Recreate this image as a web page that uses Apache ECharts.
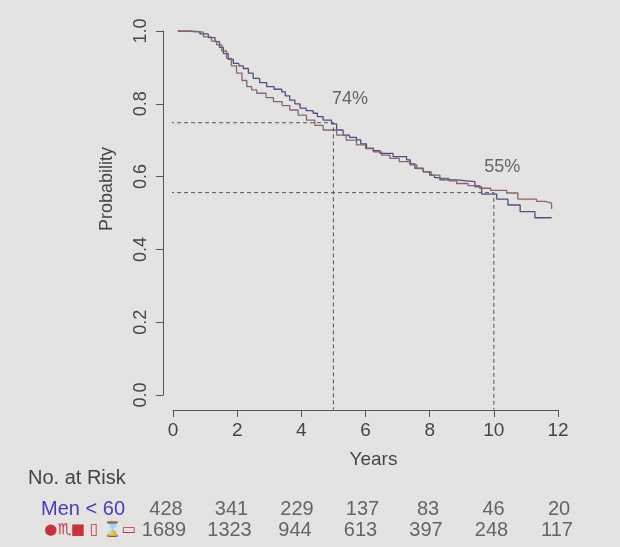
<!DOCTYPE html>
<html>
<head>
<meta charset="utf-8">
<script src="https://cdn.jsdelivr.net/npm/echarts@6/dist/echarts.min.js"></script>
<style>html,body{margin:0;padding:0;background:#e3e3e1;}#c{width:620px;height:547px;}</style>
</head>
<body>
<div id="c"></div>
<script>
// ---- data ----
var xTicks = [0, 2, 4, 6, 8, 10, 12];
var yTicks = [0.0, 0.2, 0.4, 0.6, 0.8, 1.0];

// Men < 60 (blue curve): [years, survival]
var menUnder60 = [
  [0.15, 1.0], [0.4, 0.998], [0.84, 0.992], [1.1, 0.982], [1.31, 0.971], [1.45, 0.955], [1.57, 0.938],
  [1.72, 0.922], [1.88, 0.911], [2.05, 0.904], [2.19, 0.897], [2.35, 0.884], [2.5, 0.870],
  [2.7, 0.858], [2.92, 0.847], [3.15, 0.840], [3.39, 0.833], [3.5, 0.822], [3.64, 0.810],
  [3.8, 0.800], [3.96, 0.788], [4.15, 0.781], [4.37, 0.774], [4.5, 0.765], [4.68, 0.755],
  [4.94, 0.745], [5.1, 0.728], [5.3, 0.714], [5.5, 0.708], [5.72, 0.701], [5.85, 0.690],
  [6.03, 0.678], [6.25, 0.671], [6.45, 0.664], [6.86, 0.655], [7.28, 0.646], [7.4, 0.635],
  [7.54, 0.623], [7.8, 0.613], [8.0, 0.604], [8.15, 0.597], [8.32, 0.591], [8.84, 0.586],
  [9.41, 0.572], [9.62, 0.552], [10.09, 0.538], [10.44, 0.522], [10.82, 0.504],
  [11.28, 0.487], [11.8, 0.487]
];
// Men >= 60 (red curve)
var menOver60 = [
  [0.15, 1.0], [0.5, 0.997], [0.95, 0.984], [1.2, 0.972], [1.36, 0.962], [1.52, 0.945], [1.67, 0.925],
  [1.82, 0.904], [1.98, 0.884], [2.15, 0.864], [2.3, 0.847], [2.45, 0.838], [2.61, 0.829],
  [2.9, 0.817], [3.13, 0.806], [3.4, 0.795], [3.64, 0.783], [3.9, 0.769], [4.16, 0.755],
  [4.42, 0.741], [4.68, 0.728], [5.1, 0.714], [5.4, 0.700], [5.72, 0.687], [6.0, 0.677],
  [6.24, 0.668], [6.5, 0.659], [6.76, 0.650], [7.05, 0.641], [7.38, 0.632], [7.6, 0.622],
  [7.8, 0.613], [8.05, 0.604], [8.32, 0.595], [8.6, 0.588], [8.84, 0.581], [9.2, 0.575],
  [9.56, 0.568], [9.9, 0.562], [10.4, 0.555], [10.75, 0.538], [11.33, 0.532], [11.6, 0.527],
  [11.8, 0.511]
];

// reference lines (5-year 74%, 10-year 55%)
var refYears = [5, 10];
var refSurv = [0.748, 0.556];
var refLabels = ['74%', '55%'];
var refLabelPos = [[5.52, 0.813], [10.26, 0.626]];

// numbers at risk
var riskRows = ['Men < 60', '\u25CF\u264F\u25A0 \u25AF \u231B\u25AD'];
var riskMen = [428, 341, 229, 137, 83, 46, 20];
var riskOther = [1689, 1323, 944, 613, 397, 248, 117];

// ---- chart ----
var FONT = '"Liberation Sans", Arial, sans-serif';
var TXT = '#454545';
var chart = echarts.init(document.getElementById('c'), null, {renderer: 'canvas'});

var dashed = [];
refYears.forEach(function (yr, i) {
  dashed.push({
    type: 'line', xAxisIndex: 0, yAxisIndex: 0, clip: false, symbol: 'none', silent: true,
    lineStyle: {color: '#555', width: 1, type: [4, 3]},
    data: [[-0.31, refSurv[i]], [yr, refSurv[i]], [yr, -0.04]]
  });
});

var riskData = [];
xTicks.forEach(function (t, i) {
  var shift = -8 + 8 * i / (xTicks.length - 1); // photo perspective
  riskData.push({value: [t, 0, riskMen[i]], label: {offset: [shift + 1, 0]}});
  riskData.push({value: [t, 1, riskOther[i]], label: {offset: [shift - 1, 0]}});
});

chart.setOption({
  backgroundColor: '#e3e3e1',
  animation: false,
  textStyle: {fontFamily: FONT},
  title: {
    text: 'No. at Risk', left: 28, top: 468, padding: 0,
    textStyle: {fontFamily: FONT, fontSize: 20, fontWeight: 'normal', color: TXT}
  },
  graphic: [{
    type: 'text', left: 98, top: 147, rotation: Math.PI / 2,
    style: {text: 'Probability', font: '18px ' + FONT, fill: TXT}
  }],
  grid: [
    {left: 173, right: 62, top: 31, bottom: 152},
    {left: 173, right: 62, top: 499, height: 42}
  ],
  xAxis: [{
    gridIndex: 0, type: 'value', min: 0, max: 12, interval: 2, offset: 15,
    name: 'Years', nameLocation: 'middle', nameGap: 40,
    nameTextStyle: {fontSize: 19, color: TXT, fontFamily: FONT, padding: [0, 0, 0, 16]},
    axisLine: {show: true, onZero: false, lineStyle: {color: '#555', width: 1}},
    axisTick: {show: true, length: 7, lineStyle: {color: '#555'}},
    axisLabel: {fontSize: 19, color: TXT, margin: 11, fontFamily: FONT},
    splitLine: {show: false}
  }, {
    gridIndex: 1, type: 'value', min: 0, max: 12, show: false
  }],
  yAxis: [{
    gridIndex: 0, type: 'value', min: 0, max: 1, interval: 0.2, offset: 10,
    axisLine: {show: true, onZero: false, lineStyle: {color: '#555', width: 1}},
    axisTick: {show: true, length: 7, lineStyle: {color: '#555'}},
    axisLabel: {fontSize: 18, color: TXT, rotate: 90, margin: 13, fontFamily: FONT,
      formatter: function (v) { return v.toFixed(1); }},
    splitLine: {show: false}
  }, {
    gridIndex: 1, type: 'category', data: riskRows, inverse: true,
    axisLine: {show: false}, axisTick: {show: false}, splitLine: {show: false},
    axisLabel: {
      interval: 0, margin: 37, fontSize: 20, fontFamily: FONT,
      formatter: function (v, i) { return i === 0 ? '{a|' + v + '}' : '{b|' + v + '}'; },
      rich: {
        a: {color: '#4a3cc0', fontSize: 20, fontFamily: FONT, padding: [0, 11, 0, 0]},
        b: {color: '#c8303c', fontSize: 15, fontFamily: '"DejaVu Sans", sans-serif'}
      }
    }
  }],
  series: [{
    name: 'Men < 60', type: 'line', step: 'end', symbol: 'none', xAxisIndex: 0, yAxisIndex: 0,
    lineStyle: {color: '#4e4e86', width: 1.3}, data: menUnder60
  }, {
    name: 'Men >= 60', type: 'line', step: 'end', symbol: 'none', xAxisIndex: 0, yAxisIndex: 0,
    lineStyle: {color: '#8a6470', width: 1.3}, data: menOver60
  }].concat(dashed).concat([{
    type: 'scatter', xAxisIndex: 0, yAxisIndex: 0, symbolSize: 0, silent: true,
    data: refLabelPos.map(function (p, i) { return [p[0], p[1], refLabels[i]]; }),
    label: {show: true, position: 'inside', formatter: function (p) { return p.data[2]; },
      fontSize: 18, color: TXT, fontFamily: FONT}
  }, {
    type: 'scatter', xAxisIndex: 1, yAxisIndex: 1, symbolSize: 0, silent: true,
    data: riskData,
    label: {show: true, position: 'inside', formatter: function (p) { return p.value[2]; },
      fontSize: 20, color: TXT, fontFamily: FONT}
  }])
});
</script>
</body>
</html>
